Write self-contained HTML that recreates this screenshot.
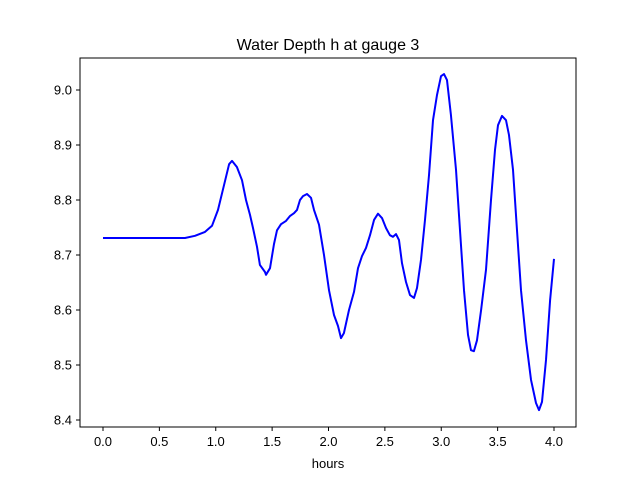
<!DOCTYPE html>
<html><head><meta charset="utf-8"><style>
body{margin:0;background:#fff;}
svg{display:block;font-family:"Liberation Sans","DejaVu Sans",sans-serif;}
</style></head><body>
<svg id="chart" width="640" height="480">
<rect x="0" y="0" width="640" height="480" fill="#fff"/>
<text x="328" y="50" text-anchor="middle" font-size="16">Water Depth h at gauge 3</text>
<g id="axes"></g>
<rect x="80" y="58" width="496" height="369" fill="none" stroke="#000" stroke-width="1"/>
<text x="328" y="468" text-anchor="middle" font-size="13">hours</text>
</svg>
<script>
const hours=[0,0.727,0.816,0.905,0.967,1.020,1.073,1.118,1.144,1.188,1.233,1.268,1.304,1.330,1.366,1.392,1.437,1.446,1.481,1.517,1.543,1.579,1.623,1.659,1.694,1.721,1.747,1.774,1.809,1.845,1.871,1.916,1.960,2.004,2.049,2.084,2.111,2.137,2.182,2.226,2.262,2.297,2.333,2.368,2.404,2.439,2.475,2.510,2.545,2.572,2.599,2.625,2.652,2.687,2.723,2.758,2.785,2.820,2.856,2.891,2.927,2.962,2.998,3.024,3.051,3.086,3.131,3.166,3.202,3.237,3.264,3.290,3.317,3.353,3.397,3.441,3.477,3.503,3.539,3.574,3.601,3.636,3.672,3.707,3.752,3.796,3.840,3.867,3.894,3.929,3.965,4.0];
const depth=[8.731,8.731,8.735,8.742,8.753,8.782,8.827,8.865,8.871,8.860,8.836,8.800,8.773,8.749,8.715,8.682,8.669,8.664,8.676,8.720,8.745,8.756,8.762,8.771,8.776,8.782,8.800,8.807,8.811,8.804,8.782,8.755,8.700,8.636,8.591,8.571,8.549,8.558,8.600,8.633,8.676,8.698,8.713,8.736,8.764,8.775,8.767,8.749,8.736,8.733,8.738,8.727,8.685,8.651,8.627,8.622,8.640,8.691,8.764,8.845,8.945,8.991,9.025,9.029,9.018,8.955,8.855,8.745,8.636,8.555,8.527,8.525,8.545,8.600,8.673,8.800,8.891,8.936,8.953,8.945,8.918,8.855,8.745,8.636,8.545,8.473,8.431,8.418,8.433,8.509,8.618,8.693];
const xTicks=[0,0.5,1,1.5,2,2.5,3,3.5,4];
const xTickLabels=["0.0","0.5","1.0","1.5","2.0","2.5","3.0","3.5","4.0"];
const yTicks=[8.4,8.5,8.6,8.7,8.8,8.9,9.0];
const yTickLabels=["8.4","8.5","8.6","8.7","8.8","8.9","9.0"];
const NS="http://www.w3.org/2000/svg";
const sx=v=>103+v*112.75;
const sy=v=>90+(9.0-v)*550;
const g=document.getElementById('axes');
function mk(tag,attrs){const e=document.createElementNS(NS,tag);for(const k in attrs)e.setAttribute(k,attrs[k]);return e;}
xTicks.forEach((t,i)=>{
 const l=mk('line',{x1:sx(t),x2:sx(t),y1:427,y2:431,stroke:'#000'});
 
 
 g.appendChild(l);
 const tx=mk('text',{x:sx(t),y:446,'text-anchor':'middle','font-size':'13'});
 tx.textContent=xTickLabels[i];
 
 
 g.appendChild(tx);
});
yTicks.forEach((t,i)=>{
 const l=mk('line',{x1:76,x2:80,y1:sy(t),y2:sy(t),stroke:'#000'});
 
 
 g.appendChild(l);
 const tx=mk('text',{x:72,y:sy(t)+4.5,'text-anchor':'end','font-size':'13'});
 tx.textContent=yTickLabels[i];
 
 
 g.appendChild(tx);
});
const d=hours.map((h,i)=>(i?'L':'M')+sx(h).toFixed(1)+','+sy(depth[i]).toFixed(1)).join('');
const p=mk('path',{d:d,fill:'none',stroke:'#0000ff','stroke-width':'2','stroke-linejoin':'round'});


g.appendChild(p);
</script>
</body></html>
